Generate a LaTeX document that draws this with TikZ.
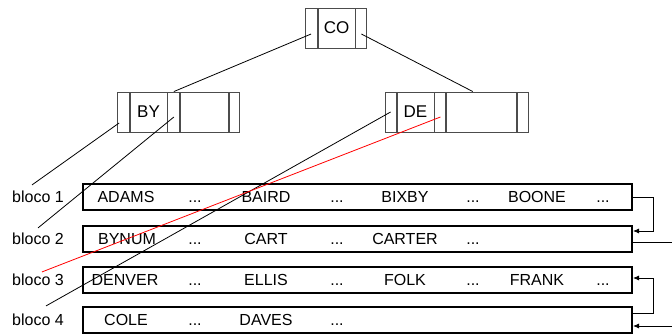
\documentclass[tikz,border=0pt]{standalone}
\usepackage{fontspec}
\setmainfont{Liberation Sans}
\usetikzlibrary{arrows.meta, positioning}

\newcommand{\skipdots}{...}

\tikzset{
  cell/.style={draw=black!70, line width=0.9pt, minimum height=40pt, inner sep=0pt, font=\fontsize{17}{20}\selectfont},
  blk/.style={draw, line width=2pt, minimum width=549pt, minimum height=26pt, inner sep=0pt},
  entry/.style={font=\fontsize{16}{19}\selectfont, inner sep=1pt, text height=11.5pt, text depth=0pt},
  lab/.style={font=\fontsize{16}{19}\selectfont, inner sep=1pt},
  ptr/.style={line width=0.8pt},
  link/.style={line width=0.8pt, -{Latex[length=6pt,width=5pt]}}
}

\begin{document}
\begin{tikzpicture}[x=1pt, y=-1pt]
  \useasboundingbox (0,0) rectangle (672,334);

  % Root
  \node[cell, minimum width=37pt] (co-k1) at (336.5,28) {CO};
  \node[cell, minimum width=12pt, left=0pt of co-k1] (co-p0) {};
  \node[cell, minimum width=11pt, right=0pt of co-k1] (co-p1) {};

  % Left child
  \node[cell, minimum width=37pt] (by-k1) at (148.5,112) {BY};
  \node[cell, minimum width=12pt, left=0pt of by-k1] (by-p0) {};
  \node[cell, minimum width=12pt, right=0pt of by-k1] (by-p1) {};
  \node[cell, minimum width=48pt, right=0pt of by-p1] (by-k2) {};
  \node[cell, minimum width=10pt, right=0pt of by-k2] (by-p2) {};

  % Right child
  \node[cell, minimum width=37pt] (de-k1) at (415.5,112) {DE};
  \node[cell, minimum width=11pt, left=0pt of de-k1] (de-p0) {};
  \node[cell, minimum width=11pt, right=0pt of de-k1] (de-p1) {};
  \node[cell, minimum width=70pt, right=0pt of de-p1] (de-k2) {};
  \node[cell, minimum width=11pt, right=0pt of de-k2] (de-p2) {};

  % Data blocks
  \node[blk] (blk1) at (357.5,197) {};
  \node[blk] (blk2) at (357.5,239) {};
  \node[blk] (blk3) at (357.5,280) {};
  \node[blk] (blk4) at (357.5,320) {};

  \node[lab, left=17pt of blk1] (lab1) {bloco 1};
  \node[lab, left=17pt of blk2] (lab2) {bloco 2};
  \node[lab, left=17pt of blk3] (lab3) {bloco 3};
  \node[lab, left=17pt of blk4] (lab4) {bloco 4};

  \foreach \x/\t in {126/ADAMS, 195/\skipdots, 266/BAIRD, 337/\skipdots, 405/BIXBY, 473/\skipdots, 537/BOONE, 603/\skipdots}
    \node[entry] (e1-\x) at (\x,197) {\t};
  \foreach \x/\t in {127/BYNUM, 195/\skipdots, 266/CART, 337/\skipdots, 405/CARTER, 473/\skipdots}
    \node[entry] (e2-\x) at (\x,239) {\t};
  \foreach \x/\t in {125/DENVER, 195/\skipdots, 266/ELLIS, 337/\skipdots, 405/FOLK, 473/\skipdots, 537/FRANK, 603/\skipdots}
    \node[entry] (e3-\x) at (\x,280) {\t};
  \foreach \x/\t in {126/COLE, 195/\skipdots, 266/DAVES, 337/\skipdots}
    \node[entry] (e4-\x) at (\x,320) {\t};

  % Tree pointers
  \draw[ptr] ([yshift=-6pt]co-p0.center) -- (by-p1.north);
  \draw[ptr] ([yshift=-6pt]co-p1.center) -- ([xshift=-9pt]de-k2.north);
  \draw[ptr] ([shift={(-4pt,-11pt)}]by-p0.center) -- ([shift={(-6pt,5pt)}]lab1.north);
  \draw[ptr] ([yshift=-5pt]by-p1.center) -- ([shift={(0pt,4pt)}]lab2.north);
  \draw[ptr] (de-p0.center) -- ([shift={(8pt,7pt)}]lab4.north);
  \draw[ptr, red] ([yshift=-5pt]de-p1.center) -- ([shift={(4pt,1pt)}]lab3.north);

  % Block chain
  \draw[link] (blk1.east) -- ++(20,0) |- ([yshift=8pt]blk2.east);
  \draw[link] ([yshift=-3pt]blk2.east) -- ++(39,0) |- ([yshift=-6pt]blk4.east);
  \draw[link] ([yshift=7pt]blk4.east) -- ++(20,0) |- ([yshift=2pt]blk3.east);
\end{tikzpicture}
\end{document}
